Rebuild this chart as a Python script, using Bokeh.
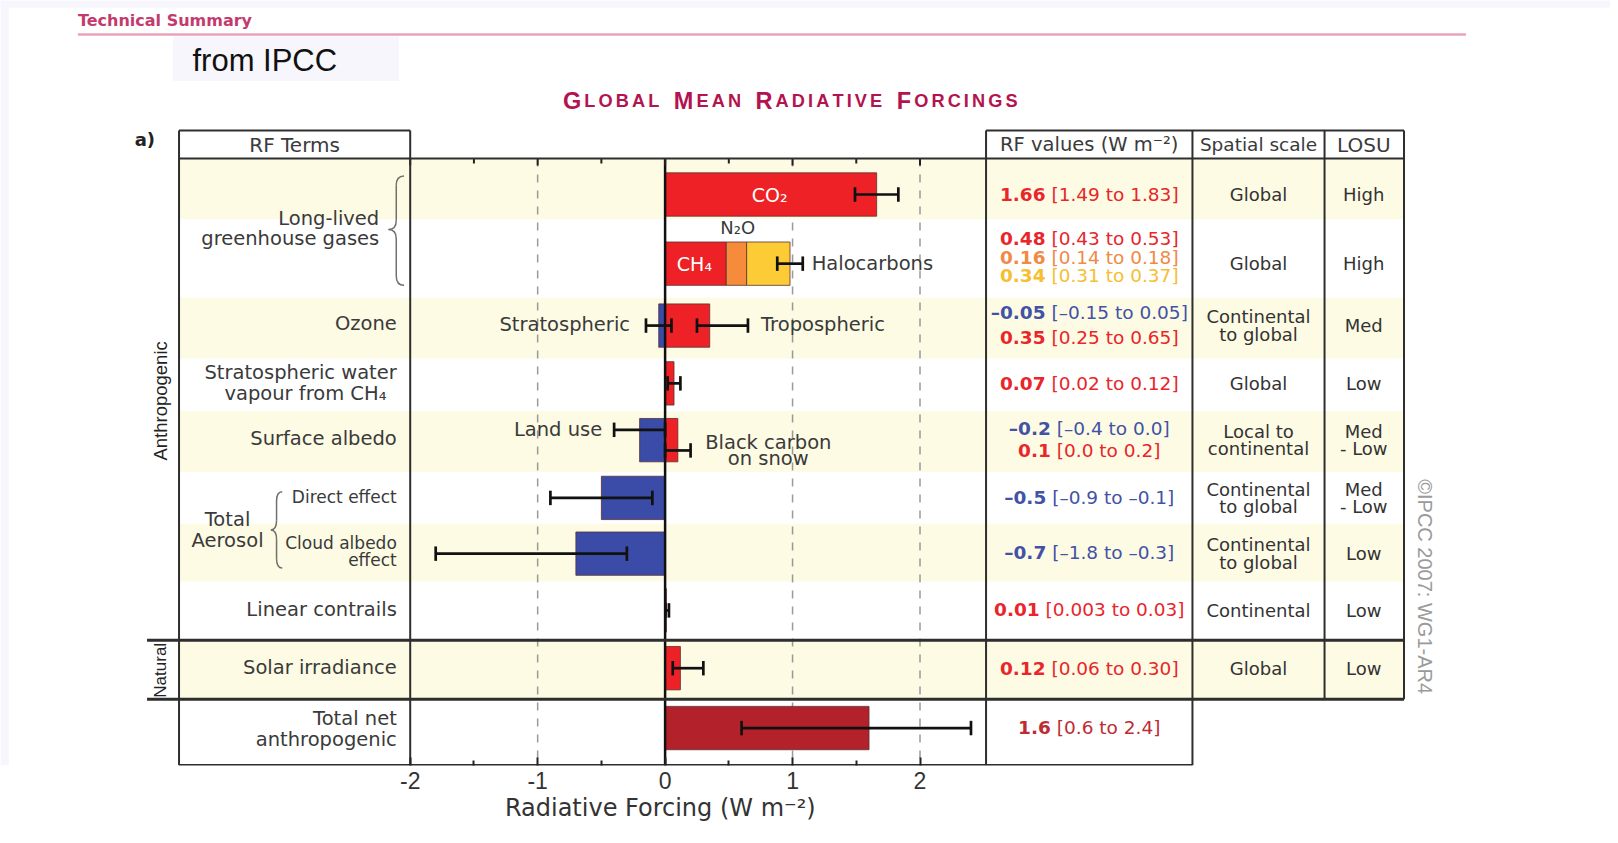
import numpy as np
from bokeh.plotting import figure
from bokeh.models import Range1d, FixedTicker, Title
from bokeh.core.properties import value
from bokeh.embed import file_html
from bokeh.resources import INLINE

# ------------------------------------------------------------------ data
bar_terms = ["CO2", "CH4", "N2O", "Halocarbons", "Stratospheric ozone",
             "Tropospheric ozone", "Stratospheric water vapour from CH4",
             "Surface albedo: land use", "Surface albedo: black carbon on snow",
             "Aerosol direct effect", "Aerosol cloud albedo effect",
             "Linear contrails", "Solar irradiance", "Total net anthropogenic"]
rf_best = [1.66, 0.48, 0.16, 0.34, -0.05, 0.35, 0.07, -0.2, 0.1, -0.5, -0.7, 0.01, 0.12, 1.6]
rf_low = [1.49, 0.43, 0.14, 0.31, -0.15, 0.25, 0.02, -0.4, 0.0, -0.9, -1.8, 0.003, 0.06, 0.6]
rf_high = [1.83, 0.53, 0.18, 0.37, 0.05, 0.65, 0.12, 0.0, 0.2, -0.1, -0.3, 0.03, 0.30, 2.4]
bar_stacked = [False, True, True, True, False, False, False, False, False, False, False, False, False, False]

tick_values = [-2, -1, 0, 1, 2]
tick_labels = ["-2", "-1", "0", "1", "2"]
minor_tick_values = [-1.5, -0.5, 0.5, 1.5]
dashed_values = [-1, 1, 2]
x_axis_title = "Radiative Forcing  (W m\u207b\u00b2)"

rf_values_text = [["1.66"], ["0.48", "0.16", "0.34"], ["\u20130.05", "0.35"], ["0.07"],
                  ["\u20130.2", "0.1"], ["\u20130.5"], ["\u20130.7"], ["0.01"], ["0.12"], ["1.6"]]
rf_ranges_text = [["[1.49 to 1.83]"], ["[0.43 to 0.53]", "[0.14 to 0.18]", "[0.31 to 0.37]"],
                  ["[\u20130.15 to 0.05]", "[0.25 to 0.65]"], ["[0.02 to 0.12]"],
                  ["[\u20130.4 to 0.0]", "[0.0 to 0.2]"], ["[\u20130.9 to \u20130.1]"],
                  ["[\u20131.8 to \u20130.3]"], ["[0.003 to 0.03]"], ["[0.06 to 0.30]"], ["[0.6 to 2.4]"]]
spatial_scale = [["Global"], ["Global"], ["Continental", "to global"], ["Global"],
                 ["Local to", "continental"], ["Continental", "to global"],
                 ["Continental", "to global"], ["Continental"], ["Global"], []]
losu = [["High"], ["High"], ["Med"], ["Low"], ["Med", "- Low"], ["Med", "- Low"],
        ["Low"], ["Low"], ["Low"], []]
header_texts = ["RF Terms", "RF values (W m\u207b\u00b2)", "Spatial scale", "LOSU"]
title_words = ["Global", "Mean", "Radiative", "Forcings"]

# ------------------------------------------------------------------ layout / style
S = 1 / 0.969                    # screen px per layout unit
PX0, PPU = 644.0, 123.5          # layout position of x=0 and layout units per W m-2
W, H, MB = 1610, 840, 75
FH = 765                         # frame height in screen px


def X(px):
    return (px - PX0) / PPU


row_bounds = [153, 212, 288, 347, 398, 457, 507, 563, 620, 677, 741]
row_center = [188, 255, 315, 371, 426, 482, 536, 591, 647, 705]
bar_row = [0, 1, 1, 1, 2, 2, 3, 4, 4, 5, 6, 7, 8, 9]
err_dy = [0, 0, 0, 0, 0, 0, 0, -10, 10, 0, 0, 0, 0, 0]
RED, ORANGE, YELLOW, BLUE, DRED = "#EE2226", "#F58B3B", "#FDCB35", "#3B4BA8", "#B3222B"
bar_fill = [RED, RED, ORANGE, YELLOW, BLUE, RED, RED, BLUE, RED, BLUE, BLUE, RED, RED, DRED]
TRED, TORANGE, TYELLOW, TBLUE, TDRED = "#E8262B", "#F08A45", "#F6BE32", "#4252A6", "#BE2C33"
value_colors = [[TRED], [TRED, TORANGE, TYELLOW], [TBLUE, TRED], [TRED], [TBLUE, TRED],
                [TBLUE], [TBLUE], [TRED], [TRED], [TDRED]]
value_y = [[188], [231, 249, 266], [302, 327], [371], [415, 436], [482], [535], [590], [647], [704]]
YELLOW_BG = "#FDFBE3"
LINE = "#2e2e2e"
TXT = "#3a3a3a"

p = figure(width=W, height=H, x_range=Range1d(X(0), X(W / S)), y_range=Range1d(FH / S, 0),
           output_backend="svg", toolbar_location=None, y_axis_location=None,
           min_border_left=0, min_border_right=0, min_border_top=0, min_border_bottom=H - FH,
           background_fill_color="white", border_fill_color="white", outline_line_color=None)
p.grid.visible = False


def txt(px, py, s, size=19, color=TXT, align="left", baseline="middle",
        font="DejaVu Sans", style="normal", angle=0.0):
    p.text(x=[X(px)], y=[py], text=[s], text_font=value(font), text_font_size=f"{size}px",
           text_color=color, text_align=align, text_baseline=baseline,
           text_font_style=style, angle=angle)


def hline(px0, px1, py, w=2, color=LINE):
    p.segment(x0=[X(px0)], x1=[X(px1)], y0=[py], y1=[py], line_color=color, line_width=w)


def vline(px, py0, py1, w=2, color=LINE):
    p.segment(x0=[X(px)], x1=[X(px)], y0=[py0], y1=[py1], line_color=color, line_width=w)


def brace(px_tip, px_arm, y_top, y_mid, y_bot, r=9, color="#707070"):
    xm = (px_tip + px_arm) / 2.0
    qs = [((px_arm, y_top), (xm, y_top + r), (xm, y_top)),
          ((xm, y_mid - r), (px_tip, y_mid), (xm, y_mid)),
          ((px_tip, y_mid), (xm, y_mid + r), (xm, y_mid)),
          ((xm, y_bot - r), (px_arm, y_bot), (xm, y_bot))]
    p.quadratic(x0=[X(a[0]) for a, b, c in qs], y0=[a[1] for a, b, c in qs],
                x1=[X(b[0]) for a, b, c in qs], y1=[b[1] for a, b, c in qs],
                cx=[X(c[0]) for a, b, c in qs], cy=[c[1] for a, b, c in qs],
                line_color=color, line_width=1.5)
    p.segment(x0=[X(xm), X(xm)], x1=[X(xm), X(xm)], y0=[y_top + r, y_mid + r],
              y1=[y_mid - r, y_bot - r], line_color=color, line_width=1.5)


# page-like lavender edge
LAV = "#F6F6FC"
p.quad(left=[X(0)], right=[X(W / S)], top=[0], bottom=[7], fill_color=LAV, line_color=None)
p.quad(left=[X(0)], right=[X(8)], top=[0], bottom=[FH / S], fill_color=LAV, line_color=None)

# ------------------------------------------------------------------ header area
txt(75, 19, "Technical Summary", size=16, color="#C33B6E", style="bold")
hline(75, 1420, 33, w=2.5, color="#E8A3BA")
p.quad(left=[X(167)], right=[X(386)], top=[35], bottom=[78], fill_color=LAV, line_color=None)
txt(186, 58, "from IPCC", size=31, color="#111111", font="Liberation Sans")

LSB = {'G': .778, 'L': .611, 'O': .778, 'B': .722, 'A': .722, 'M': .833, 'E': .667, 'N': .722,
       'R': .722, 'D': .722, 'I': .278, 'T': .611, 'V': .667, 'F': .611, 'C': .722, 'S': .667}
BIG, SMALL, TRACK, GAP = 23.5, 18.2, 3.0, 14
xpos = 545.0
big_x, big_c, small_x, small_c = [], [], [], []
for w in title_words:
    for k, ch in enumerate(w.upper()):
        sz = BIG if k == 0 else SMALL
        (big_x if k == 0 else small_x).append(X(xpos))
        (big_c if k == 0 else small_c).append(ch)
        xpos += LSB[ch] * sz / S + TRACK
    xpos += GAP - TRACK
for xs_, cs_, sz in ((big_x, big_c, BIG), (small_x, small_c, SMALL)):
    p.text(x=xs_, y=[97] * len(xs_), text=cs_, text_font=value("Liberation Sans"),
           text_font_size=f"{sz}px", text_font_style="bold", text_color="#B3134F",
           text_align="left", text_baseline="alphabetic")

txt(130, 135, "a)", size=18, color="#222222", style="bold")

# ------------------------------------------------------------------ row backgrounds
for i in range(10):
    if i % 2 == 0:
        right = 1360 if i < 9 else 1155
        p.quad(left=[X(173)], right=[X(right)], top=[row_bounds[i]], bottom=[row_bounds[i + 1]],
               fill_color=YELLOW_BG, line_color=None)

# ------------------------------------------------------------------ grid in chart
p.segment(x0=dashed_values, x1=dashed_values, y0=[153] * 3, y1=[741] * 3,
          line_color="#9a9a9a", line_width=1.5, line_dash="8 8")

# ------------------------------------------------------------------ bars
left, right = [], []
cum = 0.0
for i, v in enumerate(rf_best):
    if bar_stacked[i]:
        left.append(cum)
        right.append(cum + v)
        cum += v
    else:
        left.append(min(0.0, v))
        right.append(max(0.0, v))
bar_y = [row_center[r] for r in bar_row]
p.hbar(y=bar_y, left=left, right=right, height=42, fill_color=bar_fill,
       line_color="#5a3030", line_width=0.8)

# zero line
p.segment(x0=[0], x1=[0], y0=[153], y1=[741], line_color="#111111", line_width=2.5)

# error bars
ex0, ex1, ey = [], [], []
for i in range(len(rf_best)):
    if bar_stacked[i]:
        continue
    ex0.append(rf_low[i])
    ex1.append(rf_high[i])
    ey.append(bar_y[i] + err_dy[i])
stack_idx = [i for i in range(len(rf_best)) if bar_stacked[i]]
ex0.append(sum(rf_low[i] for i in stack_idx))
ex1.append(sum(rf_high[i] for i in stack_idx))
ey.append(row_center[1])
p.segment(x0=ex0, x1=ex1, y0=ey, y1=ey, line_color="#111111", line_width=2.7)
CAP = 7
p.segment(x0=ex0 + ex1, x1=ex0 + ex1, y0=[y - CAP for y in ey] * 2, y1=[y + CAP for y in ey] * 2,
          line_color="#111111", line_width=2.7)

# in-chart labels
txt(PX0 + 0.82 * PPU, 188, "CO\u2082", size=19, color="white", align="center")
txt(PX0 + 0.23 * PPU, 255, "CH\u2084", size=19, color="white", align="center")
txt(PX0 + 0.57 * PPU, 220, "N\u2082O", size=18, align="center")
txt(786, 255, "Halocarbons", size=19.5)
txt(610, 314, "Stratospheric", size=19.5, align="right")
txt(737, 314, "Tropospheric", size=19.5)
txt(583, 416, "Land use", size=19.5, align="right")
txt(744, 428, "Black carbon", size=19.5, align="center")
txt(744, 444, "on snow", size=19.5, align="center")

# ------------------------------------------------------------------ chart ticks (top)
top_ticks = tick_values + minor_tick_values
p.segment(x0=top_ticks, x1=top_ticks, y0=[153] * len(top_ticks),
          y1=[160] * len(tick_values) + [158] * len(minor_tick_values),
          line_color="#222222", line_width=2)

# ------------------------------------------------------------------ table lines
hline(173, 397, 126)
hline(955, 1360, 126)
hline(173, 1360, 153)
hline(142, 1360, 620, w=3)
hline(142, 1360, 677, w=3)
hline(173, 1155, 741, w=2.5)
for px_ in (173, 397, 955, 1155):
    vline(px_, 126, 741)
for px_ in (1283, 1360):
    vline(px_, 126, 677)

# headers
txt(285, 140, header_texts[0], size=20, align="center")
txt(1055, 140, header_texts[1], size=19.5, align="center")
txt(1219, 140, header_texts[2], size=18.5, align="center")
txt(1321, 140, header_texts[3], size=20, align="center")

# ------------------------------------------------------------------ RF terms column
LS = 19.5
txt(367, 211, "Long-lived", size=LS, align="right")
txt(367, 231, "greenhouse gases", size=LS, align="right")
brace(376, 391, 170, 222, 276)
txt(384, 313, "Ozone", size=LS, align="right")
txt(384, 360, "Stratospheric water", size=LS, align="right")
txt(374, 381, "vapour from CH\u2084", size=LS, align="right")
txt(384, 424, "Surface albedo", size=LS, align="right")
txt(220, 503, "Total", size=LS, align="center")
txt(220, 523, "Aerosol", size=LS, align="center")
brace(262, 273, 476, 513, 550)
txt(384, 481, "Direct effect", size=17, align="right")
txt(384, 526, "Cloud albedo", size=17, align="right")
txt(384, 542, "effect", size=17, align="right")
txt(384, 590, "Linear contrails", size=LS, align="right")
txt(384, 646, "Solar irradiance", size=LS, align="right")
txt(384, 696, "Total net", size=LS, align="right")
txt(384, 716, "anthropogenic", size=LS, align="right")
txt(155, 388, "Anthropogenic", size=18.5, color="#222222", align="center",
    font="Liberation Sans", angle=np.pi / 2)
txt(155, 649, "Natural", size=17, color="#222222", align="center",
    font="Liberation Sans", angle=np.pi / 2)

# ------------------------------------------------------------------ RF values column
REG = dict.fromkeys("0123456789", 0.636)
REG.update({".": 0.318, " ": 0.318, "[": 0.39, "]": 0.39, "t": 0.392, "o": 0.612, "\u2013": 0.5})
BOLD = dict.fromkeys("0123456789", 0.696)
BOLD.update({".": 0.38, "\u2013": 0.5})
VSIZE = 18.5


def tw(s, table, size):
    return sum(table.get(c, 0.6) for c in s) * size / S


for r in range(10):
    for v, rg, c, y in zip(rf_values_text[r], rf_ranges_text[r], value_colors[r], value_y[r]):
        wb = tw(v, BOLD, VSIZE)
        wr = tw(rg, REG, VSIZE)
        g = 0.318 * VSIZE / S
        x0 = 1055 - (wb + g + wr) / 2
        txt(x0, y, v, size=VSIZE, color=c, style="bold")
        txt(x0 + wb + g, y, rg, size=VSIZE, color=c)

# spatial scale & LOSU
SS = 18
for r in range(10):
    lines = spatial_scale[r]
    n = len(lines)
    for k, s in enumerate(lines):
        txt(1219, row_center[r] + (k - (n - 1) / 2) * 17, s, size=SS, color="#333333", align="center")
    lines = losu[r]
    n = len(lines)
    for k, s in enumerate(lines):
        txt(1321, row_center[r] + (k - (n - 1) / 2) * 17, s, size=SS, color="#333333", align="center")

txt(1380, 568, "\u00a9IPCC 2007: WG1-AR4", size=20, color="#9a9a9a", align="center",
    font="Liberation Sans", angle=-np.pi / 2)

# ------------------------------------------------------------------ x axis
ax = p.xaxis[0]
ax.ticker = FixedTicker(ticks=tick_values, minor_ticks=minor_tick_values)
ax.major_label_overrides = {t: l for t, l in zip(tick_values, tick_labels)}
ax.bounds = (-2, 2.52)
ax.axis_line_color = None
ax.major_tick_in = 8
ax.major_tick_out = 0
ax.minor_tick_in = 5
ax.minor_tick_out = 0
ax.major_tick_line_color = "#222222"
ax.major_tick_line_width = 2
ax.minor_tick_line_color = "#222222"
ax.minor_tick_line_width = 2
ax.major_label_text_font = "Liberation Sans"
ax.major_label_text_font_size = "23px"
ax.major_label_text_color = "#333333"
ax.major_label_standoff = 6

# axis title, centred under x = 0 (the frame is much wider than the axis)
DJ = {'R': .695, 'a': .613, 'd': .635, 'i': .278, 't': .392, 'v': .592, 'e': .615, ' ': .318,
      'F': .575, 'o': .612, 'r': .411, 'c': .55, 'n': .634, 'g': .635, '(': .39, ')': .39,
      'W': .989, 'm': .974, '\u207b': .53, '\u00b2': .4}
AT_SIZE = 24
at_width = sum(DJ.get(c, 0.6) for c in x_axis_title) * AT_SIZE
p.add_layout(Title(text=x_axis_title, align="left", offset=PX0 * S - at_width / 2,
                   text_font="DejaVu Sans", text_font_size=f"{AT_SIZE}px",
                   text_font_style="normal", text_color="#333333", standoff=0), "below")

html = file_html(p, INLINE)
html = html.replace("<body>", '<body style="background-color:#F6F6FC;">', 1)
open("out.html", "w").write(html)
